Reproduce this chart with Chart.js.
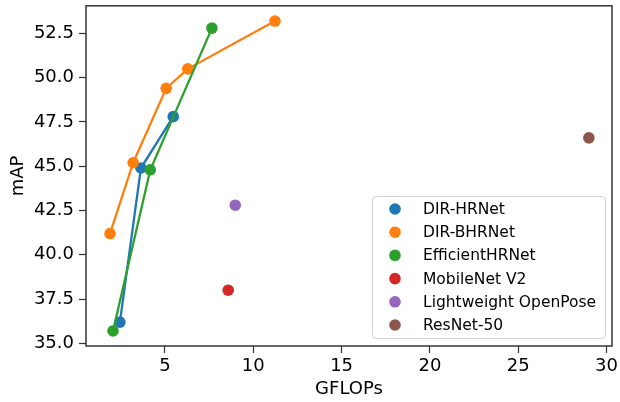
<!DOCTYPE html>
<html lang="en">
<head>
    <meta charset="UTF-8">
    <title>GFLOPs vs mAP</title>
    <script src="https://cdn.jsdelivr.net/npm/chart.js"></script>
    <style>
        body { margin: 0; background: #fff; }
    </style>
</head>
<body>
    <canvas id="myChart" width="620" height="402"></canvas>

    <script>
        // data
        const seriesNames = ['DIR-HRNet', 'DIR-BHRNet', 'EfficientHRNet', 'MobileNet V2', 'Lightweight OpenPose', 'ResNet-50'];
        const seriesColors = ['#1f77b4', '#ff7f0e', '#2ca02c', '#d62728', '#9467bd', '#8c564b'];

        const dirHrnetGflops = [2.45, 3.64, 5.47];
        const dirHrnetMap = [36.2, 44.9, 47.8];
        const dirBhrnetGflops = [1.89, 3.2, 5.07, 6.29, 11.23];
        const dirBhrnetMap = [41.2, 45.2, 49.4, 50.5, 53.2];
        const effHrnetGflops = [2.06, 4.17, 7.66];
        const effHrnetMap = [35.7, 44.8, 52.8];
        const mobileNetGflops = [8.58];
        const mobileNetMap = [38.0];
        const openPoseGflops = [8.98];
        const openPoseMap = [42.8];
        const resnetGflops = [29.0];
        const resnetMap = [46.6];

        const xTicks = [5, 10, 15, 20, 25, 30];
        const yTicks = [35, 37.5, 40, 42.5, 45, 47.5, 50, 52.5];

        const allX = [dirHrnetGflops, dirBhrnetGflops, effHrnetGflops, mobileNetGflops, openPoseGflops, resnetGflops];
        const allY = [dirHrnetMap, dirBhrnetMap, effHrnetMap, mobileNetMap, openPoseMap, resnetMap];
        const withLine = [true, true, true, false, false, false];

        const datasets = seriesNames.map((name, i) => ({
            label: name,
            data: allX[i].map((x, j) => ({ x: x, y: allY[i][j] })),
            showLine: withLine[i],
            borderColor: seriesColors[i],
            backgroundColor: seriesColors[i],
            borderWidth: 2.3,
            pointRadius: 5.8,
            pointBorderWidth: 0,
            pointBackgroundColor: seriesColors[i],
            order: -i
        }));

        // box around the plot + legend inside it
        const framePlugin = {
            id: 'frame',
            afterDatasetsDraw(chart) {
                const { ctx, chartArea: a } = chart;
                ctx.save();
                ctx.strokeStyle = '#333';
                ctx.lineWidth = 1.5;
                ctx.strokeRect(a.left, a.top, a.right - a.left, a.bottom - a.top);

                // legend
                const bx = 372, by = 196, bw = 233, bh = 142;
                ctx.fillStyle = 'rgba(255,255,255,0.8)';
                ctx.strokeStyle = '#d0d0d0';
                ctx.lineWidth = 1;
                ctx.beginPath();
                ctx.roundRect(bx + 0.5, by + 0.5, bw, bh, 4);
                ctx.fill();
                ctx.stroke();

                ctx.font = '15.5px "DejaVu Sans"';
                ctx.textBaseline = 'middle';
                seriesNames.forEach((name, i) => {
                    const y = 209 + i * 23.2;
                    ctx.fillStyle = seriesColors[i];
                    ctx.beginPath();
                    ctx.arc(395, y, 5.8, 0, Math.PI * 2);
                    ctx.fill();
                    ctx.fillStyle = '#000';
                    ctx.fillText(name, 423, y + 1);
                });
                ctx.restore();
            }
        };

        const tickFont = { family: 'DejaVu Sans', size: 18 };

        const ctx = document.getElementById('myChart').getContext('2d');
        const myChart = new Chart(ctx, {
            type: 'scatter',
            data: { datasets: datasets },
            plugins: [framePlugin],
            options: {
                responsive: false,
                animation: false,
                layout: { padding: { top: 5, right: 8, left: 0, bottom: 0 } },
                plugins: {
                    legend: { display: false },
                    tooltip: { enabled: false }
                },
                scales: {
                    x: {
                        type: 'linear',
                        position: 'bottom',
                        min: 0.53,
                        max: 30.31,
                        afterBuildTicks: scale => { scale.ticks = xTicks.map(v => ({ value: v })); },
                        afterFit: scale => {
                            scale.height = 56;
                            scale.paddingLeft = 0;
                            scale.paddingRight = 0;
                        },
                        ticks: { color: '#000', font: tickFont, padding: 3, maxRotation: 0 },
                        grid: { drawOnChartArea: false, tickLength: 7, color: '#333', tickWidth: 1.2 },
                        border: { display: false },
                        title: { display: true, text: 'GFLOPs', color: '#000', font: tickFont, padding: { top: 0, bottom: 2 } }
                    },
                    y: {
                        type: 'linear',
                        position: 'left',
                        min: 34.85,
                        max: 54.06,
                        afterBuildTicks: scale => { scale.ticks = yTicks.map(v => ({ value: v })); },
                        afterFit: scale => {
                            scale.width = 86;
                            scale.paddingTop = 0;
                            scale.paddingBottom = 0;
                        },
                        ticks: { color: '#000', font: tickFont, padding: 5, callback: v => v.toFixed(1) },
                        grid: { drawOnChartArea: false, tickLength: 7, color: '#333', tickWidth: 1.2 },
                        border: { display: false },
                        title: { display: true, text: 'mAP', color: '#000', font: tickFont, padding: { top: 8, bottom: 0 } }
                    }
                }
            }
        });
    </script>
</body>
</html>
